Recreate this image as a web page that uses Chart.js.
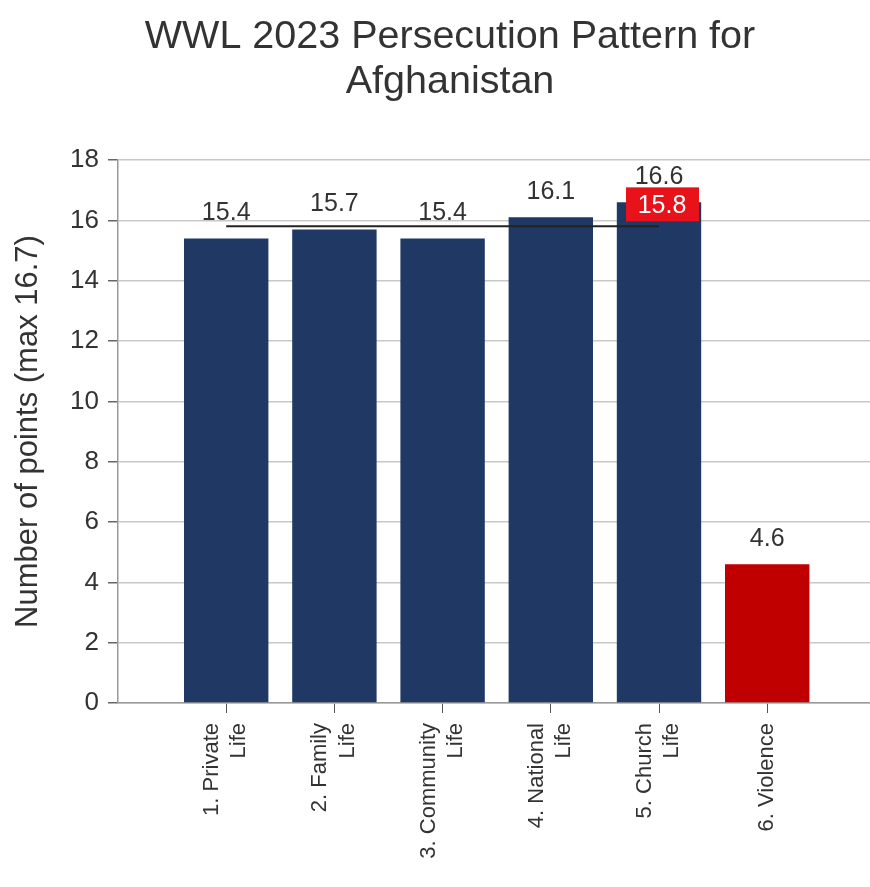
<!DOCTYPE html>
<html>
<head>
<meta charset="utf-8">
<script src="https://cdn.jsdelivr.net/npm/chart.js@4"></script>
<style>
  html, body { margin: 0; padding: 0; background: #fff; }
  #wrap { width: 870px; height: 887px; position: relative; }
</style>
</head>
<body>
<div id="wrap"><canvas id="c"></canvas></div>
<script>
// ---- data ----
const titleLines = ['WWL 2023 Persecution Pattern for', 'Afghanistan'];
const categories = [
  ['1. Private', 'Life'],
  ['2. Family', 'Life'],
  ['3. Community', 'Life'],
  ['4. National', 'Life'],
  ['5. Church', 'Life'],
  ['6. Violence']
];
const values = [15.4, 15.7, 15.4, 16.1, 16.6, 4.6];
const barColors = ['#1F3864', '#1F3864', '#1F3864', '#1F3864', '#1F3864', '#C00000'];
const averageValue = 15.8;
const averageSpan = [1, 5]; // from category 1 to category 5
const yTitle = 'Number of points (max 16.7)';
const yTicks = [0, 2, 4, 6, 8, 10, 12, 14, 16, 18];

const FONT = '"Liberation Sans", Arial, sans-serif';
const X_LABEL_OFFSET = -14;

const barData = values.map((v, i) => ({ x: i + 1, y: v }));
const avgData = averageSpan.map(x => ({ x: x, y: averageValue }));

const labelsPlugin = {
  id: 'labelsPlugin',
  beforeDraw(chart) {
    // single-line category labels are centred on their tick
    const xs = chart.scales.x;
    if (!xs || !xs.getLabelItems) return;
    const items = xs.getLabelItems(chart.chartArea);
    items.forEach((it) => {
      if (it.__shifted) return;
      it.__shifted = true;
      if (!Array.isArray(it.label) || it.label.length === 1) {
        it.options.translation[0] -= X_LABEL_OFFSET;
      }
    });
  },
  afterDatasetsDraw(chart) {
    const ctx = chart.ctx;
    const barMeta = chart.getDatasetMeta(1);
    ctx.save();
    ctx.font = '25px ' + FONT;
    ctx.fillStyle = '#333333';
    ctx.textAlign = 'center';
    ctx.textBaseline = 'alphabetic';
    barMeta.data.forEach((el, i) => {
      ctx.fillText(values[i].toFixed(1), el.x, el.y - 18);
    });
    // average label
    const avgMeta = chart.getDatasetMeta(0);
    const last = avgMeta.data[avgMeta.data.length - 1];
    const bx = last.x, by = last.y - 22;
    ctx.fillStyle = '#E8121B';
    ctx.fillRect(bx - 33, by - 17, 73, 34);
    ctx.fillStyle = '#ffffff';
    ctx.textBaseline = 'middle';
    ctx.fillText(averageValue.toFixed(1), bx + 3, by + 2);
    ctx.restore();
  },
  afterDraw(chart) {
    const ctx = chart.ctx;
    ctx.save();
    ctx.font = '39.5px ' + FONT;
    ctx.fillStyle = '#333333';
    ctx.textAlign = 'center';
    ctx.textBaseline = 'middle';
    titleLines.forEach((t, i) => ctx.fillText(t, 450, 37 + i * 45));
    ctx.restore();
  }
};

new Chart(document.getElementById('c'), {
  data: {
    datasets: [
      {
        type: 'line',
        data: avgData,
        borderColor: '#222222',
        borderWidth: 2,
        pointRadius: 0,
        fill: false,
        order: 0
      },
      {
        type: 'bar',
        data: barData,
        backgroundColor: barColors,
        borderWidth: 0,
        barPercentage: 0.78,
        categoryPercentage: 1.0,
        order: 1
      }
    ]
  },
  options: {
    responsive: true,
    maintainAspectRatio: false,
    animation: false,
    layout: { padding: { top: 160, right: 0, left: 0, bottom: 0 } },
    plugins: {
      legend: { display: false },
      tooltip: { enabled: false },
      title: { display: false }
    },
    scales: {
      x: {
        type: 'linear',
        min: 0,
        max: 6.95,
        offset: false,
        afterBuildTicks(scale) {
          scale.ticks = categories.map((c, i) => ({ value: i + 1 }));
        },
        afterFit(scale) { scale.height = 184; },
        ticks: {
          stepSize: 1,
          autoSkip: false,
          maxRotation: 90,
          minRotation: 90,
          padding: 10,
          labelOffset: X_LABEL_OFFSET,
          color: '#333333',
          font: { family: FONT, size: 22, lineHeight: 1.23 },
          callback(value) {
            const c = categories[value - 1];
            return c ? c : '';
          }
        },
        grid: {
          offset: false,
          drawOnChartArea: false,
          drawTicks: true,
          tickLength: 10,
          color: '#555555',
          tickColor: '#555555'
        },
        border: { color: '#999999', width: 1.5 }
      },
      y: {
        min: 0,
        max: 18,
        afterBuildTicks(scale) {
          scale.ticks = yTicks.map(v => ({ value: v }));
        },
        afterFit(scale) { scale.width = 118; },
        ticks: {
          stepSize: 2,
          padding: 9,
          color: '#333333',
          font: { family: FONT, size: 26 }
        },
        grid: {
          color: '#c8c8c8',
          tickColor: '#666666',
          tickLength: 10,
          lineWidth: 1.5
        },
        border: { color: '#999999', width: 1.5 },
        title: {
          display: true,
          text: yTitle,
          color: '#333333',
          padding: { top: 10, bottom: 4 },
          font: { family: FONT, size: 31, lineHeight: 1.2 }
        }
      }
    }
  },
  plugins: [labelsPlugin]
});
</script>
</body>
</html>
